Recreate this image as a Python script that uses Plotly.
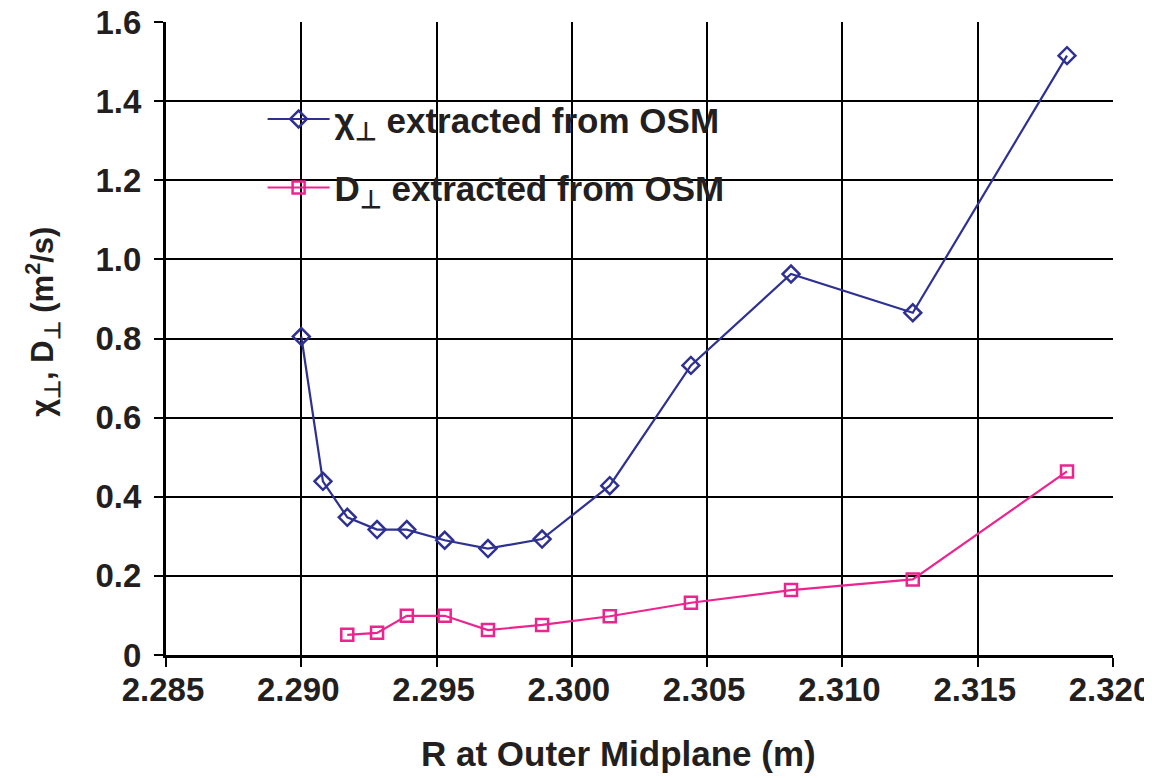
import plotly.graph_objects as go

# ---- data ----
r_chi = [2.2900, 2.2908, 2.2917, 2.2928, 2.2939, 2.2953, 2.2969, 2.2989,
         2.3014, 2.3044, 2.3081, 2.3126, 2.3183]
chi_perp = [0.805, 0.439, 0.348, 0.317, 0.317, 0.290, 0.269, 0.293,
            0.428, 0.732, 0.963, 0.865, 1.515]

r_d = [2.2917, 2.2928, 2.2939, 2.2953, 2.2969, 2.2989,
       2.3014, 2.3044, 2.3081, 2.3126, 2.3183]
d_perp = [0.051, 0.056, 0.099, 0.099, 0.063, 0.076,
          0.098, 0.132, 0.164, 0.191, 0.464]

x_ticks = [2.285, 2.290, 2.295, 2.300, 2.305, 2.310, 2.315, 2.320]
x_ticktext = ["2.285", "2.290", "2.295", "2.300", "2.305", "2.310", "2.315", "2.320"]
y_ticks = [0, 0.2, 0.4, 0.6, 0.8, 1.0, 1.2, 1.4, 1.6]
y_ticktext = ["0", "0.2", "0.4", "0.6", "0.8", "1.0", "1.2", "1.4", "1.6"]

x_title = "R at Outer Midplane (m)"
y_title = "χ<sub>⊥</sub>, D<sub>⊥</sub> (m<sup>2</sup>/s)"

BLUE = "#2E3192"
PINK = "#EC248F"
TXT = "#231F20"
FONT = "Liberation Sans, Arial, Helvetica, sans-serif"

fig = go.Figure()
fig.add_trace(go.Scatter(
    x=r_chi, y=chi_perp, mode="lines+markers",
    name="χ<sub>⊥</sub> extracted from OSM",
    legendgroup="a",
    line=dict(color=BLUE, width=2.2),
    marker=dict(symbol="diamond-open", size=13, color=BLUE, line=dict(width=2.5, color=BLUE)),
))
fig.add_trace(go.Scatter(
    x=r_d, y=d_perp, mode="lines+markers",
    name="D<sub>⊥</sub> extracted from OSM",
    legendgroup="b",
    line=dict(color=PINK, width=2.2),
    marker=dict(symbol="square-open", size=12, color=PINK, line=dict(width=2.5, color=PINK)),
))

axis_common = dict(
    showgrid=True, gridcolor="black", gridwidth=2,
    showline=True, linecolor="black", linewidth=3,
    ticks="outside", ticklen=9, tickwidth=2, tickcolor="black",
    zeroline=False, automargin=False,
    ticklabeloverflow="allow",
    tickfont=dict(family=FONT, size=33, color=TXT, weight="bold"),
)

# page body adds an 8px margin, so the figure is sized to fit the 1152x778 window
fig.update_layout(
    width=1144, height=770,
    margin=dict(l=158, r=39, t=14, b=123, autoexpand=False),
    paper_bgcolor="white", plot_bgcolor="white",
    font=dict(family=FONT, color=TXT, weight="bold"),
    xaxis=dict(
        range=[2.285, 2.320], tickvals=x_ticks, ticktext=x_ticktext,
        ticklabelstandoff=-6, ticklabelshift=-3,
        **axis_common,
    ),
    yaxis=dict(
        range=[0, 1.6], tickvals=y_ticks, ticktext=y_ticktext,
        ticklabelstandoff=6,
        **axis_common,
    ),
    legend=dict(
        x=0.102, y=0.893, xanchor="left", yanchor="top",
        bgcolor="rgba(0,0,0,0)",
        font=dict(family=FONT, size=35, color=TXT, weight="bold"),
        traceorder="grouped", tracegroupgap=20,
        itemwidth=62,
    ),
    showlegend=True,
    annotations=[
        dict(text=x_title, xref="paper", yref="paper", x=0.478, y=-0.156,
             xanchor="center", yanchor="middle", showarrow=False,
             font=dict(family=FONT, size=35, color=TXT, weight="bold")),
        dict(text=y_title, xref="paper", yref="paper", x=-0.1305, y=0.527,
             xanchor="center", yanchor="middle", showarrow=False, textangle=-90,
             font=dict(family=FONT, size=31, color=TXT, weight="bold")),
    ],
    shapes=[dict(
        type="rect", xref="paper", yref="paper",
        x0=0.0605, x1=0.7125, y0=0.6806, y1=0.9016,
        fillcolor="white", line=dict(width=0), layer="between",
    )],
)

fig.write_html("out.html")
